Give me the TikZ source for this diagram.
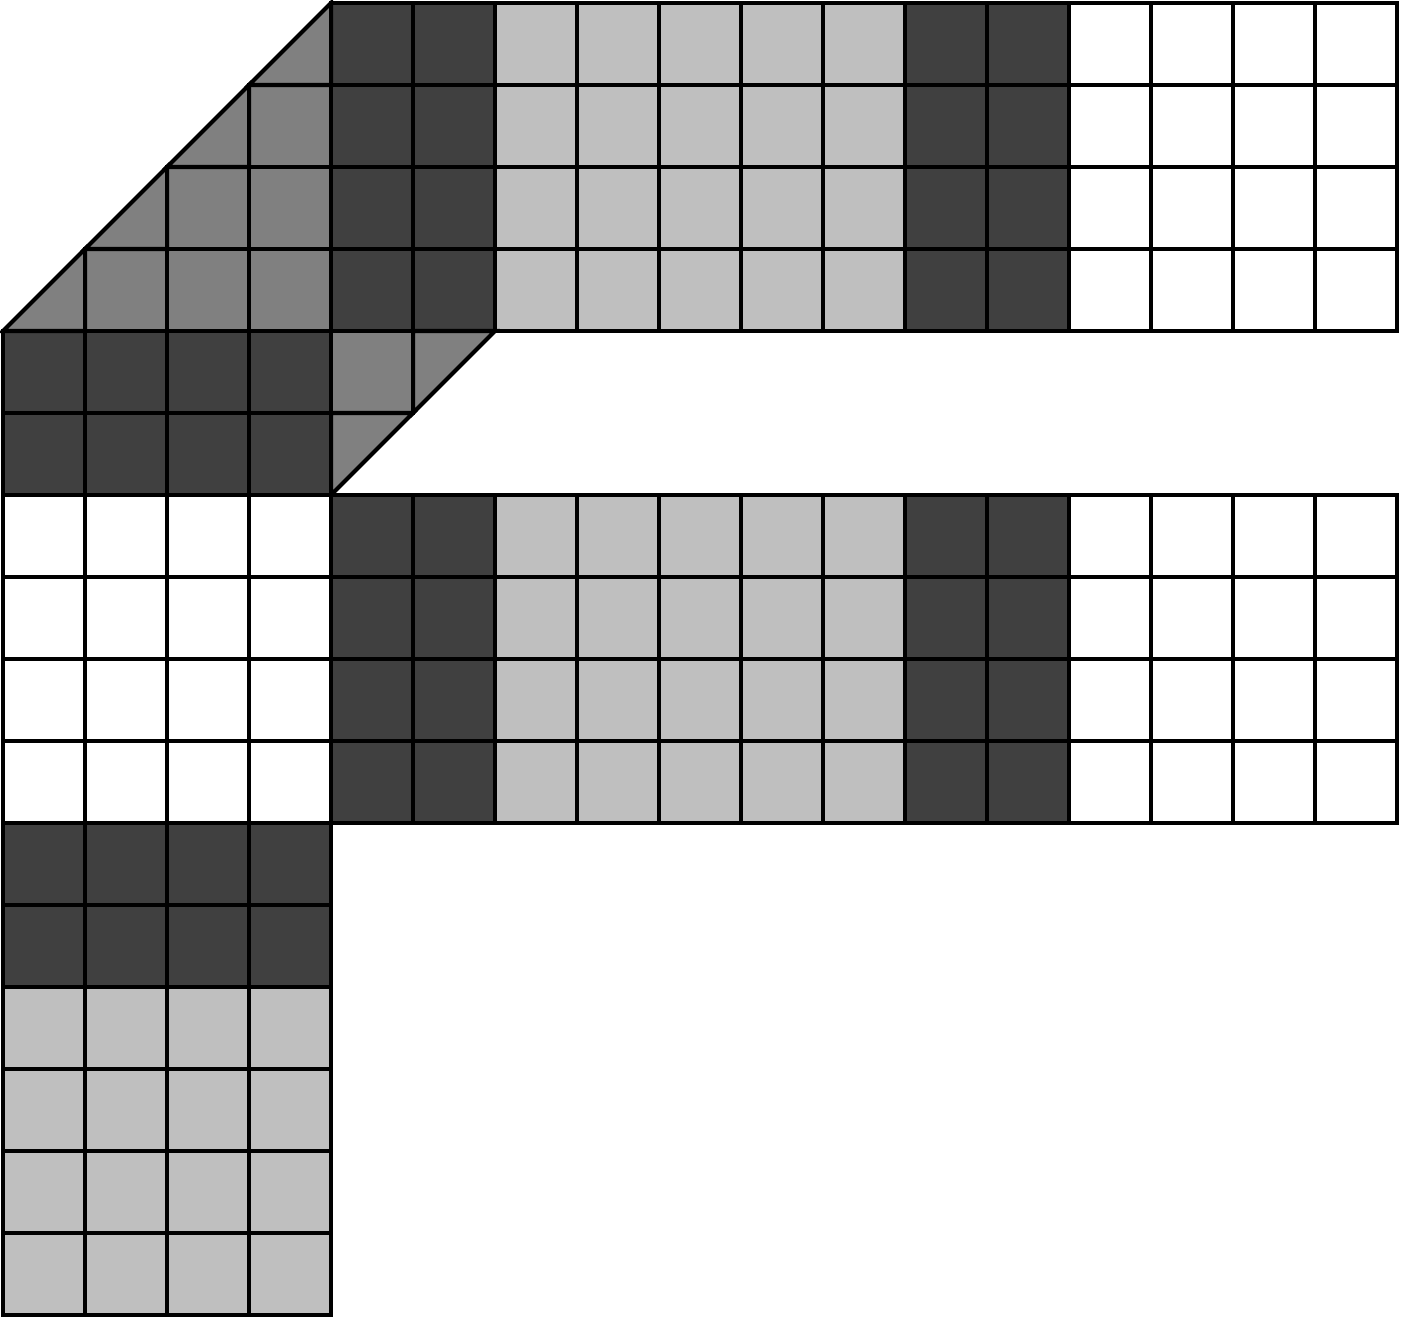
\documentclass[tikz,border=0pt]{standalone}
\usepackage{tikz}

\begin{document}
\begin{tikzpicture}[line width=1.4pt,
  dk/.style={draw, fill=black!75},
  md/.style={draw, fill=black!50},
  lt/.style={draw, fill=black!25},
  wt/.style={draw, fill=white}]
  \useasboundingbox (-0.037,-0.049) rectangle (17.049,16.037);
  % the two long bands
  \foreach \y in {6,7,8,9,12,13,14,15} {
    \foreach \x in {4,5,11,12} \draw[dk] (\x,\y) rectangle ++(1,1);
    \foreach \x in {6,...,10} \draw[lt] (\x,\y) rectangle ++(1,1);
    \foreach \x in {13,...,16} \draw[wt] (\x,\y) rectangle ++(1,1);
  }
  % the left column
  \foreach \x in {0,...,3} {
    \foreach \y in {4,5,10,11} \draw[dk] (\x,\y) rectangle ++(1,1);
    \foreach \y in {6,...,9} \draw[wt] (\x,\y) rectangle ++(1,1);
    \foreach \y in {0,...,3} \draw[lt] (\x,\y) rectangle ++(1,1);
  }
  % the slanted corners
  \foreach \x/\y in {3/14, 2/13, 3/13, 1/12, 2/12, 3/12, 4/11}
    \draw[md] (\x,\y) rectangle ++(1,1);
  \foreach \i in {0,...,3}
    \draw[md] (\i,12+\i) -- ++(1,1) -- ++(0,-1) -- cycle;
  \draw[md] (5,11) -- (6,12) -- (5,12) -- cycle;
  \draw[md] (4,10) -- (5,11) -- (4,11) -- cycle;
\end{tikzpicture}
\end{document}
